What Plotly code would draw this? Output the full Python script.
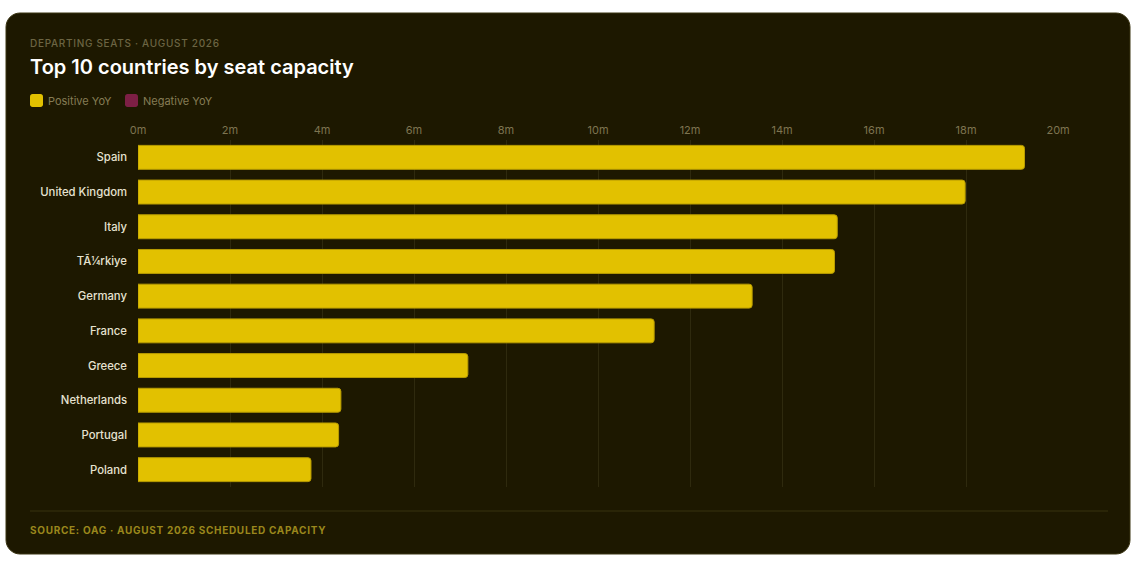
import plotly.graph_objects as go

# ---- data ----
countries = ["Spain", "United Kingdom", "Italy", "TÃ¼rkiye", "Germany",
             "France", "Greece", "Netherlands", "Portugal", "Poland"]
seats_m = [19.27, 17.98, 15.20, 15.14, 13.35, 11.22, 7.17, 4.41, 4.36, 3.76]
yoy_positive = [True] * 10
tick_vals = [0, 2, 4, 6, 8, 10, 12, 14, 16, 18, 20]
tick_text = ["0m", "2m", "4m", "6m", "8m", "10m", "12m", "14m", "16m", "18m", "20m"]

W, H = 1137, 566
L, R, T, B = 138, 1059, 140, 487  # plot area in px

def px(x):
    return (x - L) / (R - L)

def py(y):
    return (B - y) / (B - T)

POS = "#e2c100"
NEG = "#7d1f45"
BG = "#1d1800"
FONT = "Inter, Noto Sans, sans-serif"

colors = [POS if p else NEG for p in yoy_positive]

fig = go.Figure()
fig.add_trace(go.Bar(
    x=seats_m, y=countries, orientation="h",
    marker=dict(color=colors, line=dict(color="#b89c00", width=1)),
    hovertemplate="%{y}: %{x:.2f}m<extra></extra>",
    showlegend=False,
))

def rounded_rect(x0, y0, x1, y1, r):
    k = 0.5523 * r
    pts = [
        f"M{px(x0 + r)},{py(y0)}",
        f"L{px(x1 - r)},{py(y0)}",
        f"C{px(x1 - r + k)},{py(y0)} {px(x1)},{py(y0 + r - k)} {px(x1)},{py(y0 + r)}",
        f"L{px(x1)},{py(y1 - r)}",
        f"C{px(x1)},{py(y1 - r + k)} {px(x1 - r + k)},{py(y1)} {px(x1 - r)},{py(y1)}",
        f"L{px(x0 + r)},{py(y1)}",
        f"C{px(x0 + r - k)},{py(y1)} {px(x0)},{py(y1 - r + k)} {px(x0)},{py(y1 - r)}",
        f"L{px(x0)},{py(y0 + r)}",
        f"C{px(x0)},{py(y0 + r - k)} {px(x0 + r - k)},{py(y0)} {px(x0 + r)},{py(y0)}",
        "Z",
    ]
    return " ".join(pts)

shapes = [
    dict(type="path", xref="paper", yref="paper", layer="below",
         path=rounded_rect(6, 13, 1130, 554, 14),
         fillcolor=BG, line=dict(color="#3a3412", width=1)),
    dict(type="line", xref="paper", yref="paper", layer="below",
         x0=px(30), x1=px(1108), y0=py(511), y1=py(511),
         line=dict(color="#39330f", width=1)),
    dict(type="path", xref="paper", yref="paper",
         path=rounded_rect(30, 94, 43, 107, 2.5),
         fillcolor=POS, line=dict(width=0)),
    dict(type="path", xref="paper", yref="paper",
         path=rounded_rect(125, 94, 138, 107, 2.5),
         fillcolor=NEG, line=dict(width=0)),
]

def ann(text, x, y, size, color, weight=400):
    return dict(text=text, xref="paper", yref="paper", x=px(x), y=py(y),
                xanchor="left", yanchor="middle", showarrow=False,
                font=dict(family=FONT, size=size, color=color, weight=weight))

annotations = [
    ann("DEPARTING SEATS · AUGUST 2026", 28, 43, 10, "#6c6543", 500),
    ann("Top 10 countries by seat capacity", 28, 67, 20, "#ffffff", 600),
    ann("Positive YoY", 46, 101, 11, "#857c55"),
    ann("Negative YoY", 141, 101, 11, "#857c55"),
    ann("SOURCE: OAG · AUGUST 2026 SCHEDULED CAPACITY", 28, 530, 10, "#9a871c", 700),
]

fig.update_layout(
    width=W, height=H,
    margin=dict(l=L, r=W - R, t=T, b=H - B, pad=0),
    paper_bgcolor="#ffffff",
    plot_bgcolor="rgba(0,0,0,0)",
    bargap=0.31,
    barcornerradius=3,
    shapes=shapes,
    annotations=annotations,
    font=dict(family=FONT),
    xaxis=dict(
        side="top", range=[0, 20.02], tickvals=tick_vals, ticktext=tick_text,
        showgrid=True, gridcolor="#2f2a0e", gridwidth=1, zeroline=False,
        showline=False, ticks="", ticklabelstandoff=3,
        tickfont=dict(family=FONT, size=11, color="#7d7450"),
        fixedrange=True,
    ),
    yaxis=dict(
        autorange="reversed", showgrid=False, zeroline=False, showline=False,
        ticks="", ticklabelstandoff=10,
        tickfont=dict(family=FONT, size=11.3, color="#e6e2d0", weight=500),
        fixedrange=True,
    ),
)

post = """
document.body.style.margin='0';
var gd = document.getElementById('{plot_id}');
gd.querySelectorAll('.annotation-text').forEach(function(t){
  if (/^[A-Z0-9 :\\u00b7]+$/.test(t.textContent)) {
    var x0 = t.getBBox().x;
    t.style.letterSpacing = '0.7px';
    var x1 = t.getBBox().x;
    var tr = t.getAttribute('transform') || '';
    t.setAttribute('transform', tr + ' translate(' + (x0 - x1) + ',0)');
  }
});
"""

fig.write_html("out.html", config={"displayModeBar": False}, post_script=post)
